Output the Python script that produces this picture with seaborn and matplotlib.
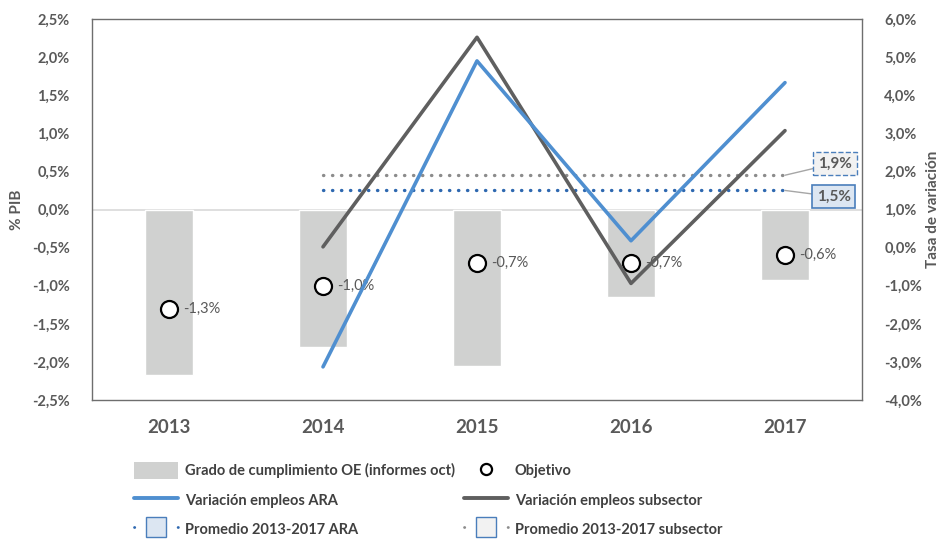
import numpy as np
import pandas as pd
import seaborn as sns
import matplotlib.pyplot as plt
from matplotlib.lines import Line2D
from matplotlib.patches import Patch
from matplotlib.ticker import FuncFormatter

# datos
anios = ['2013', '2014', '2015', '2016', '2017']
cumplimiento = [-2.17, -1.81, -2.05, -1.15, -0.92]    # % PIB (barras)
objetivo = [-1.3, -1.0, -0.7, -0.7, -0.6]             # % PIB (circulos)
objetivo_txt = ['-1,3%', '-1,0%', '-0,7%', '-0,7%', '-0,6%']
anios_lineas = ['2014', '2015', '2016', '2017']
var_ara = [-3.13, 4.9, 0.18, 4.33]                    # tasa de variacion
var_subsector = [0.02, 5.52, -0.94, 3.07]
prom_ara = 1.5
prom_subsector = 1.9

GRIS_TXT = '#595959'
C_BARRA = '#D0D1D0'
C_ARA = '#4F8FD0'
C_SUB = '#5F5F5F'
C_PROM_ARA = '#2E68B0'
C_PROM_SUB = '#8C8C8C'

sns.set_style('white')
plt.rcParams['font.family'] = ['Lato', 'DejaVu Sans']

fig = plt.figure(figsize=(9.43, 5.42), dpi=100)
ax = fig.add_axes([92 / 943, 1 - 400 / 542, 770 / 943, 381 / 542])

df = pd.DataFrame({'anio': anios, 'cumpl': cumplimiento, 'obj': objetivo})
pos = {a: i for i, a in enumerate(anios)}
df['x'] = df['anio'].map(pos)

sns.barplot(data=df, x='anio', y='cumpl', color=C_BARRA, width=0.31,
            saturation=1, ax=ax, zorder=2)
ax.axhline(0, color='#D9D9D9', lw=1.2, zorder=1)
sns.scatterplot(data=df, x='x', y='obj', ax=ax, s=150, color='white',
                edgecolor='black', linewidth=1.6, zorder=4)
for xi, yi, t in zip(df['x'], df['obj'], objetivo_txt):
    ax.annotate(t, (xi, yi), xytext=(10, 0), textcoords='offset points',
                va='center', ha='left', fontsize=10.5, color=GRIS_TXT, zorder=5)

ax.set_ylim(-2.5, 2.5)
ax.set_yticks(np.arange(-2.5, 2.51, 0.5))
ax.yaxis.set_major_formatter(FuncFormatter(lambda v, p: f'{v:.1f}%'.replace('.', ',')))
ax.set_xlim(-0.5, 4.5)
ax.set_xlabel('')
ax.set_ylabel('% PIB', fontsize=11, fontweight='bold', color=GRIS_TXT, labelpad=6)
ax.tick_params(axis='y', length=0, pad=16, labelsize=10.5, labelcolor=GRIS_TXT)
ax.tick_params(axis='x', length=0, pad=14, labelsize=13.5, labelcolor=GRIS_TXT)
for lab in ax.get_xticklabels() + ax.get_yticklabels():
    lab.set_fontweight('bold')
for s in ax.spines.values():
    s.set_visible(True)
    s.set_color('#6E6E6E')
    s.set_linewidth(1.0)

ax2 = ax.twinx()
dl = pd.DataFrame({'x': [pos[a] for a in anios_lineas], 'ara': var_ara, 'sub': var_subsector})
sns.lineplot(data=dl, x='x', y='sub', ax=ax2, color=C_SUB, lw=2.6, zorder=3)
sns.lineplot(data=dl, x='x', y='ara', ax=ax2, color=C_ARA, lw=2.6, zorder=3)

x_prom = [pos[anios_lineas[0]], pos[anios_lineas[-1]]]
ax2.plot(x_prom, [prom_subsector] * 2, color=C_PROM_SUB, lw=2.4,
         linestyle=(0, (0.1, 2.6)), dash_capstyle='round')
ax2.plot(x_prom, [prom_ara] * 2, color=C_PROM_ARA, lw=2.4,
         linestyle=(0, (0.1, 2.6)), dash_capstyle='round')

ax2.annotate('1,9%', (x_prom[1], prom_subsector), xytext=(36, 8.5), textcoords='offset points',
             ha='center', va='center', fontsize=11, fontweight='bold', color=GRIS_TXT,
             bbox=dict(boxstyle='square,pad=0.3', fc='#F2F2F2', ec='#4A7EBB', ls='--', lw=1),
             arrowprops=dict(arrowstyle='-', color='#A6A6A6', lw=1, shrinkA=0, shrinkB=0))
ax2.annotate('1,5%', (x_prom[1], prom_ara), xytext=(35, -4.5), textcoords='offset points',
             ha='center', va='center', fontsize=11, fontweight='bold', color=GRIS_TXT,
             bbox=dict(boxstyle='square,pad=0.3', fc='#DCE6F2', ec='#4A7EBB', lw=1.2),
             arrowprops=dict(arrowstyle='-', color='#A6A6A6', lw=1, shrinkA=0, shrinkB=0))

ax2.set_ylim(-4, 6)
ax2.set_yticks(np.arange(-4, 6.1, 1))
ax2.yaxis.set_major_formatter(FuncFormatter(lambda v, p: f'{v:.1f}%'.replace('.', ',')))
ax2.set_ylabel('Tasa de variación', fontsize=11, fontweight='bold', color=GRIS_TXT, labelpad=3)
ax2.tick_params(axis='y', length=0, pad=16, labelsize=10.5, labelcolor=GRIS_TXT)
for lab in ax2.get_yticklabels():
    lab.set_fontweight('bold')
for s in ax2.spines.values():
    s.set_visible(False)

# leyenda
h_barra = Patch(facecolor=C_BARRA, edgecolor='none')
h_obj = Line2D([], [], marker='o', ls='none', markersize=8, markerfacecolor='white',
               markeredgecolor='black', markeredgewidth=1.6)
h_ara = Line2D([], [], color=C_ARA, lw=2.8)
h_sub = Line2D([], [], color=C_SUB, lw=2.8)
h_pa = Line2D([], [], color=C_PROM_ARA, lw=2, linestyle=(0, (0.1, 15.6)), dash_capstyle='round',
              marker='s', markersize=14, markerfacecolor='#DCE6F2', markeredgecolor='#4A7EBB',
              markeredgewidth=1)
h_ps = Line2D([], [], color=C_PROM_SUB, lw=2, linestyle=(0, (0.1, 15.6)), dash_capstyle='round',
              marker='s', markersize=14, markerfacecolor='#F2F2F2', markeredgecolor='#4A7EBB',
              markeredgewidth=1)
handles = [h_barra, h_ara, h_pa, h_obj, h_sub, h_ps]
labels = ['Grado de cumplimiento OE (informes oct)', 'Variación empleos ARA',
          'Promedio 2013-2017 ARA', 'Objetivo', 'Variación empleos subsector',
          'Promedio 2013-2017 subsector']
leg = fig.legend(handles, labels, ncol=2, loc='upper left', bbox_to_anchor=(121 / 943, 1 - 449 / 542),
                 frameon=False, fontsize=10.5, handlelength=3.0, handleheight=1.4,
                 labelspacing=0.85, columnspacing=0.6, handletextpad=0.5)
for t in leg.get_texts():
    t.set_fontweight('bold')
    t.set_color('#404040')

fig.savefig('out.png', dpi=100)
